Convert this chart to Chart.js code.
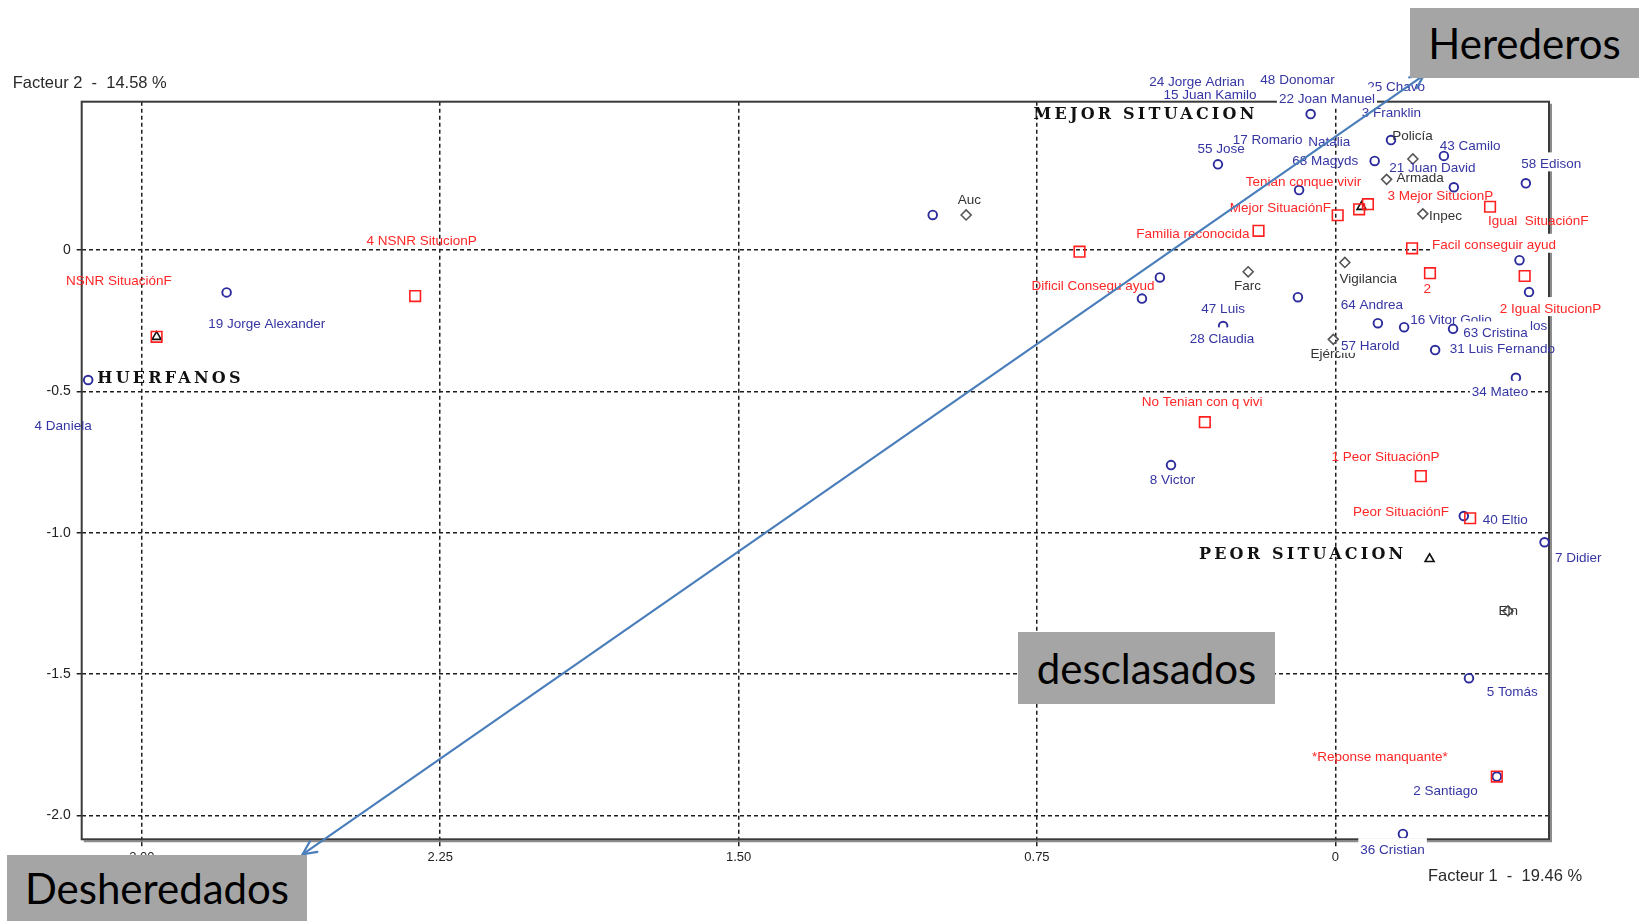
<!DOCTYPE html>
<html>
<head>
<meta charset="utf-8">
<title>Plan factorial 1-2</title>
<script src="https://cdn.jsdelivr.net/npm/chart.js"></script>
<style>
  html, body { margin: 0; padding: 0; background: #fff; }
  #wrap { position: relative; width: 1639px; height: 921px; overflow: hidden; }
  #plot { position: absolute; left: 0; top: 0; }
  .tag {
    position: absolute; background: #a5a5a5; color: #000;
    font-family: Lato, "Open Sans", sans-serif; font-size: 42px;
    display: flex; align-items: center; justify-content: center;
  }
</style>
</head>
<body>
<div id="wrap">
  <canvas id="plot" width="1639" height="921"></canvas>
  <div class="tag" style="left:1410px;top:8px;width:229px;height:70px;">Herederos</div>
  <div class="tag" style="left:1018px;top:632px;width:257px;height:72px;">desclasados</div>
  <div class="tag" style="left:7px;top:855px;width:300px;height:66px;">Desheredados</div>
</div>
<script>
// ---- axis ticks ----
const xTickValues = [3.0, 2.25, 1.5, 0.75, 0];
const xTickLabels = ['3.00', '2.25', '1.50', '0.75', '0'];
const yTickValues = [0, -0.5, -1.0, -1.5, -2.0];
const yTickLabels = ['0', '-0.5', '-1.0', '-1.5', '-2.0'];

// ---- individuals (circles): coordinates on factor 1 / factor 2 ----
const indivF1 = [0.062, -0.140, -0.273, 0.295, -0.099, -0.479, 0.091, -0.298, -0.463, -0.487,
                 0.441, 0.486, 0.094, 0.282, -0.107, -0.173, -0.296, -0.251, -0.454, 0.413,
                 -0.323, -0.526, -0.336, -0.406, -0.170, 1.012, 2.787, 3.135];
const indivF2 = [0.481, 0.389, 0.333, 0.303, 0.315, 0.236, 0.212, 0.222, -0.036, -0.149,
                 -0.097, -0.172, -0.167, -0.269, -0.259, -0.273, -0.279, -0.354, -0.452, -0.761,
                 -0.941, -1.034, -1.515, -1.863, -2.066, 0.124, -0.150, -0.460];

// ---- situation categories (squares) ----
const situF1 = [-0.389, -0.082, -0.060, -0.006, 0.193, -0.193, 0.643, -0.238, -0.476, 2.313,
                2.963, 0.328, -0.215, -0.339, -0.406];
const situF2 = [0.153, 0.162, 0.144, 0.123, 0.068, 0.006, -0.006, -0.082, -0.092, -0.163,
                -0.307, -0.609, -0.800, -0.949, -1.863];

// ---- armed groups / institutions (diamonds) ----
const groupF1 = [0.928, -0.195, -0.129, -0.220, -0.024, 0.219, 0.005, -0.434];
const groupF2 = [0.124, 0.322, 0.250, 0.128, -0.044, -0.077, -0.316, -1.277];

// ---- supplementary categories (triangles) ----
const supF1 = [-0.066, -0.237, 2.963];
const supF2 = [0.153, -1.093, -0.307];

// ---- label texts and their anchor coordinates ----
const groupLabels = ['Auc', 'Policía', 'Armada', 'Inpec', 'Vigilancia', 'Farc', 'Ejército', 'Eln'];
const groupLabelF1 = [0.920, -0.194, -0.213, -0.277, -0.083, 0.221, 0.006, -0.435];
const groupLabelF2 = [0.177, 0.401, 0.254, 0.120, -0.104, -0.130, -0.368, -1.277];

const situLabels = ['Tenian conque vivir', '3 Mejor SitucionP', 'Mejor SituaciónF', 'Igual  SituaciónF',
                    'Familia reconocida', 'Facil conseguir ayud', 'Dificil Consegu ayud', '2',
                    '2 Igual SitucionP', 'No Tenian con q vivi', '1 Peor SituaciónP', 'Peor SituaciónF',
                    '*Reponse manquante*', '4 NSNR SitucionP', 'NSNR SituaciónF'];
const situLabelF1 = [0.080, -0.264, 0.138, -0.510, 0.358, -0.399, 0.609, -0.231,
                     -0.541, 0.335, -0.126, -0.165, -0.112, 2.297, 3.058];
const situLabelF2 = [0.240, 0.189, 0.148, 0.103, 0.057, 0.015, -0.129, -0.139,
                     -0.209, -0.537, -0.733, -0.929, -1.793, 0.032, -0.109];

const indivLabels = ['24 Jorge Adrian', '48 Donomar', '15 Juan Kamilo', '25 Chavo', '22 Joan Manuel',
                     '3 Franklin', '55 Jose', '17 Romario', 'Natalia', '43 Camilo', '68 Magyds',
                     '21 Juan David', '58 Edison', '47 Luis', '28 Claudia', '64 Andrea',
                     '16 Vitor Golio', 'los', '63 Cristina', '57 Harold', '31 Luis Fernando',
                     '34 Mateo', '8 Victor', '40 Eltio', '7 Didier', '5 Tomás', '2 Santiago',
                     '36 Cristian', '19 Jorge Alexander', '4 Daniela'];
const indivLabelF1 = [0.348, 0.095, 0.315, -0.153, 0.021, -0.141, 0.287, 0.170, 0.015, -0.339, 0.025,
                      -0.244, -0.543, 0.282, 0.285, -0.092, -0.291, -0.511, -0.403, -0.088, -0.420,
                      -0.414, 0.409, -0.427, -0.611, -0.445, -0.277, -0.144, 2.686, 3.198];
const indivLabelF2 = [0.595, 0.599, 0.548, 0.576, 0.533, 0.484, 0.356, 0.389, 0.380, 0.368, 0.315,
                      0.289, 0.303, -0.210, -0.316, -0.195, -0.248, -0.269, -0.295, -0.339, -0.351,
                      -0.505, -0.814, -0.955, -1.091, -1.565, -1.916, -2.123, -0.263, -0.623];

// labels printed on an opaque white cell (they mask lines and marks under them)
const boxedLabels = new Set(['22 Joan Manuel', '36 Cristian', '34 Mateo', '58 Edison', '28 Claudia',
                             '63 Cristina', '57 Harold', '2 Igual SitucionP', 'Facil conseguir ayud']);

// ---- zone annotations ----
const noteTexts = ['MEJOR SITUACION', 'PEOR SITUACION', 'HUERFANOS'];
const noteF1 = [0.477, 0.082, 2.928];
const noteF2 = [0.478, -1.079, -0.457];

// ---- double arrow from the "desheredados" corner to the "herederos" corner ----
const arrowF1 = [2.596, -0.223];
const arrowF2 = [-2.138, 0.619];

const LABEL_FONT = '13.5px "Liberation Sans", Arial, sans-serif';
const pts = (xs, ys) => xs.map((x, i) => ({ x, y: ys[i] }));

const framePlugin = {
  id: 'frame',
  beforeDatasetsDraw(chart) {
    const { ctx, chartArea: a } = chart;
    ctx.save();
    ctx.strokeStyle = '#8c8c8c';
    ctx.lineWidth = 2;
    ctx.beginPath();
    ctx.moveTo(a.left + 2, a.bottom + 2);
    ctx.lineTo(a.right + 2, a.bottom + 2);
    ctx.lineTo(a.right + 2, a.top + 2);
    ctx.stroke();
    ctx.strokeStyle = '#3a3a3a';
    ctx.lineWidth = 2;
    ctx.strokeRect(a.left, a.top, a.right - a.left, a.bottom - a.top);
    ctx.restore();
  }
};

const labelGroups = [
  { names: groupLabels, f1: groupLabelF1, f2: groupLabelF2, color: '#333333' },
  { names: situLabels, f1: situLabelF1, f2: situLabelF2, color: '#ff2626' },
  { names: indivLabels, f1: indivLabelF1, f2: indivLabelF2, color: '#3535a3' }
];

const labelPlugin = {
  id: 'pointLabels',
  afterDatasetsDraw(chart) {
    const { ctx } = chart;
    const sx = chart.scales.x, sy = chart.scales.y;
    ctx.save();
    ctx.font = LABEL_FONT;
    ctx.textAlign = 'center';
    ctx.textBaseline = 'middle';
    for (const boxed of [false, true]) {
      for (const g of labelGroups) {
        g.names.forEach((t, i) => {
          if (boxedLabels.has(t) !== boxed) return;
          const px = sx.getPixelForValue(g.f1[i]);
          const py = sy.getPixelForValue(g.f2[i]);
          if (boxed) {
            const w = ctx.measureText(t).width;
            ctx.fillStyle = '#ffffff';
            ctx.fillRect(px - w / 2 - 2, py - 12, w + 4, 19);
          }
          ctx.fillStyle = g.color;
          ctx.fillText(t, px, py);
        });
      }
    }
    ctx.restore();
  }
};

const overlayPlugin = {
  id: 'overlay',
  afterDraw(chart) {
    const { ctx, chartArea: a } = chart;
    const sx = chart.scales.x, sy = chart.scales.y;
    ctx.save();

    // factor titles
    ctx.font = '16.5px "Liberation Sans", Arial, sans-serif';
    ctx.fillStyle = '#2a2a2a';
    ctx.textBaseline = 'middle';
    ctx.textAlign = 'left';
    ctx.fillText('Facteur 2  -  14.58 %', a.left - 69, a.top - 18);
    ctx.fillText('Facteur 1  -  19.46 %', a.right - 121, a.bottom + 37);

    // zone annotations
    ctx.font = 'bold 16px "DejaVu Serif", "Liberation Serif", serif';
    if ('letterSpacing' in ctx) ctx.letterSpacing = '3.2px';
    ctx.fillStyle = '#111';
    noteTexts.forEach((t, i) => {
      const w = ctx.measureText(t).width;
      ctx.fillText(t, sx.getPixelForValue(noteF1[i]) - w / 2, sy.getPixelForValue(noteF2[i]));
    });
    if ('letterSpacing' in ctx) ctx.letterSpacing = '0px';

    // double-headed arrow
    const x1 = sx.getPixelForValue(arrowF1[0]), y1 = sy.getPixelForValue(arrowF2[0]);
    const x2 = sx.getPixelForValue(arrowF1[1]), y2 = sy.getPixelForValue(arrowF2[1]);
    ctx.strokeStyle = '#4a7ebb';
    ctx.lineWidth = 2.2;
    ctx.lineCap = 'round';
    ctx.beginPath();
    ctx.moveTo(x1, y1);
    ctx.lineTo(x2, y2);
    ctx.stroke();
    const head = (tx, ty, fx, fy) => {
      const ang = Math.atan2(ty - fy, tx - fx);
      const len = 15, spread = 0.45;
      ctx.beginPath();
      ctx.moveTo(tx - len * Math.cos(ang - spread), ty - len * Math.sin(ang - spread));
      ctx.lineTo(tx, ty);
      ctx.lineTo(tx - len * Math.cos(ang + spread), ty - len * Math.sin(ang + spread));
      ctx.stroke();
    };
    head(x1, y1, x2, y2);
    head(x2, y2, x1, y1);
    ctx.restore();
  }
};

const tickFont = (size) => ({ family: '"Liberation Sans", Arial, sans-serif', size });

new Chart(document.getElementById('plot'), {
  type: 'scatter',
  data: {
    datasets: [
      { label: 'Situación', data: pts(situF1, situF2), pointStyle: 'rect', pointRadius: 7.5,
        borderColor: '#ff1f1f', borderWidth: 1.6, backgroundColor: 'rgba(0,0,0,0)', clip: false },
      { label: 'Individuos', data: pts(indivF1, indivF2), pointStyle: 'circle', pointRadius: 4.3,
        borderColor: '#2b2b9c', borderWidth: 1.9, backgroundColor: 'rgba(0,0,0,0)', clip: false },
      { label: 'Grupos', data: pts(groupF1, groupF2), pointStyle: 'rectRot', pointRadius: 5,
        borderColor: '#555555', borderWidth: 1.6, backgroundColor: 'rgba(0,0,0,0)', clip: false },
      { label: 'Suplementarias', data: pts(supF1, supF2), pointStyle: 'triangle', pointRadius: 5.2,
        borderColor: '#111111', borderWidth: 1.6, backgroundColor: 'rgba(0,0,0,0)', clip: false }
    ]
  },
  options: {
    responsive: false,
    animation: false,
    devicePixelRatio: 1,
    events: [],
    layout: { padding: { left: 21.7, right: 90, top: 101.7, bottom: 41.7 } },
    plugins: { legend: { display: false }, tooltip: { enabled: false } },
    scales: {
      x: {
        type: 'linear', reverse: true, min: -0.5372, max: 3.1513,
        afterBuildTicks: (s) => { s.ticks = xTickValues.map(v => ({ value: v })); },
        afterFit: (s) => { s.height = 40; },
        ticks: {
          callback: (v) => xTickLabels[xTickValues.indexOf(v)],
          font: tickFont(13), color: '#222', padding: 3, maxRotation: 0, autoSkip: false
        },
        grid: { color: '#1e1e1e', lineWidth: 1.5, tickLength: 7, tickColor: '#1e1e1e', drawTicks: true },
        border: { display: false, dash: [4, 3] }
      },
      y: {
        type: 'linear', min: -2.0849, max: 0.5247,
        afterBuildTicks: (s) => { s.ticks = yTickValues.map(v => ({ value: v })); },
        afterFit: (s) => { s.width = 60; },
        ticks: {
          callback: (v) => yTickLabels[yTickValues.indexOf(v)],
          font: tickFont(14), color: '#222', padding: 6, autoSkip: false
        },
        grid: { color: '#1e1e1e', lineWidth: 1.5, tickLength: 5, tickColor: '#1e1e1e', drawTicks: true },
        border: { display: false, dash: [4, 3] }
      }
    }
  },
  plugins: [framePlugin, labelPlugin, overlayPlugin]
});
</script>
</body>
</html>
